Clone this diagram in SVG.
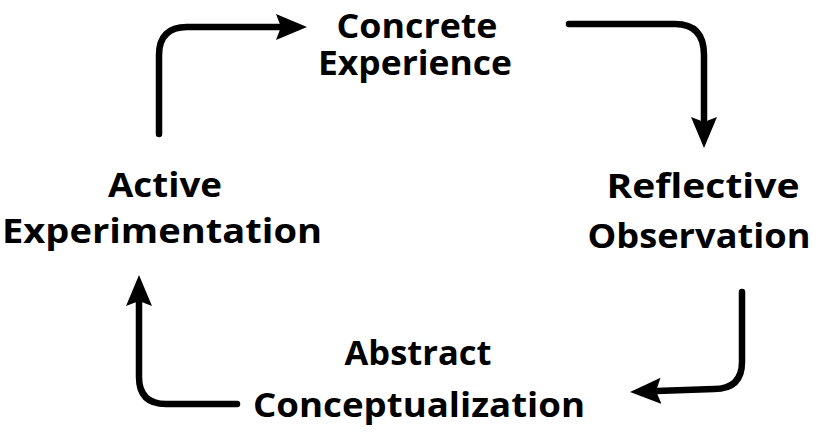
<svg xmlns="http://www.w3.org/2000/svg" width="819" height="443" viewBox="0 0 819 443">
<defs>
<style>
.lbl{font-family:"Open Sans","Liberation Sans",sans-serif;font-weight:bold;font-size:34px;fill:#000;text-anchor:middle}
.conn{fill:none;stroke:#000;stroke-width:6.5;stroke-linecap:round;stroke-linejoin:round}
</style>
<marker id="ah" markerUnits="userSpaceOnUse" viewBox="0 0 32 28" refX="5" refY="14" markerWidth="32" markerHeight="28" orient="auto">
<path d="M0,1 L31,14 L0,27 L5,14 Z" fill="#000"/>
</marker>
</defs>
<rect width="819" height="443" fill="#fff"/>
<g id="connectors">
<path class="conn" d="M159,134 L159,55 Q159,27 187,27 L281,27" marker-end="url(#ah)"/>
<path class="conn" d="M569,24 L675,24 Q704,24 704,55 L704,122" marker-end="url(#ah)"/>
<path class="conn" d="M742,292 L742,362 Q742,389 714,389 L656,391" marker-end="url(#ah)"/>
<path class="conn" d="M237,404 L166,404 Q139,404 139,377 L139,301" marker-end="url(#ah)"/>
</g>
<g id="concrete-experience">
<text class="lbl" x="417" y="38" textLength="161" lengthAdjust="spacingAndGlyphs">Concrete</text>
<text class="lbl" x="415" y="75" textLength="194" lengthAdjust="spacingAndGlyphs">Experience</text>
</g>
<g id="reflective-observation">
<text class="lbl" x="703" y="198" textLength="193" lengthAdjust="spacingAndGlyphs">Reflective</text>
<text class="lbl" x="699" y="248" textLength="223" lengthAdjust="spacingAndGlyphs">Observation</text>
</g>
<g id="abstract-conceptualization">
<text class="lbl" x="418" y="365" textLength="147" lengthAdjust="spacingAndGlyphs">Abstract</text>
<text class="lbl" x="419" y="417" textLength="332" lengthAdjust="spacingAndGlyphs">Conceptualization</text>
</g>
<g id="active-experimentation">
<text class="lbl" x="165" y="197" textLength="114" lengthAdjust="spacingAndGlyphs">Active</text>
<text class="lbl" x="162" y="243" textLength="320" lengthAdjust="spacingAndGlyphs">Experimentation</text>
</g>
</svg>
